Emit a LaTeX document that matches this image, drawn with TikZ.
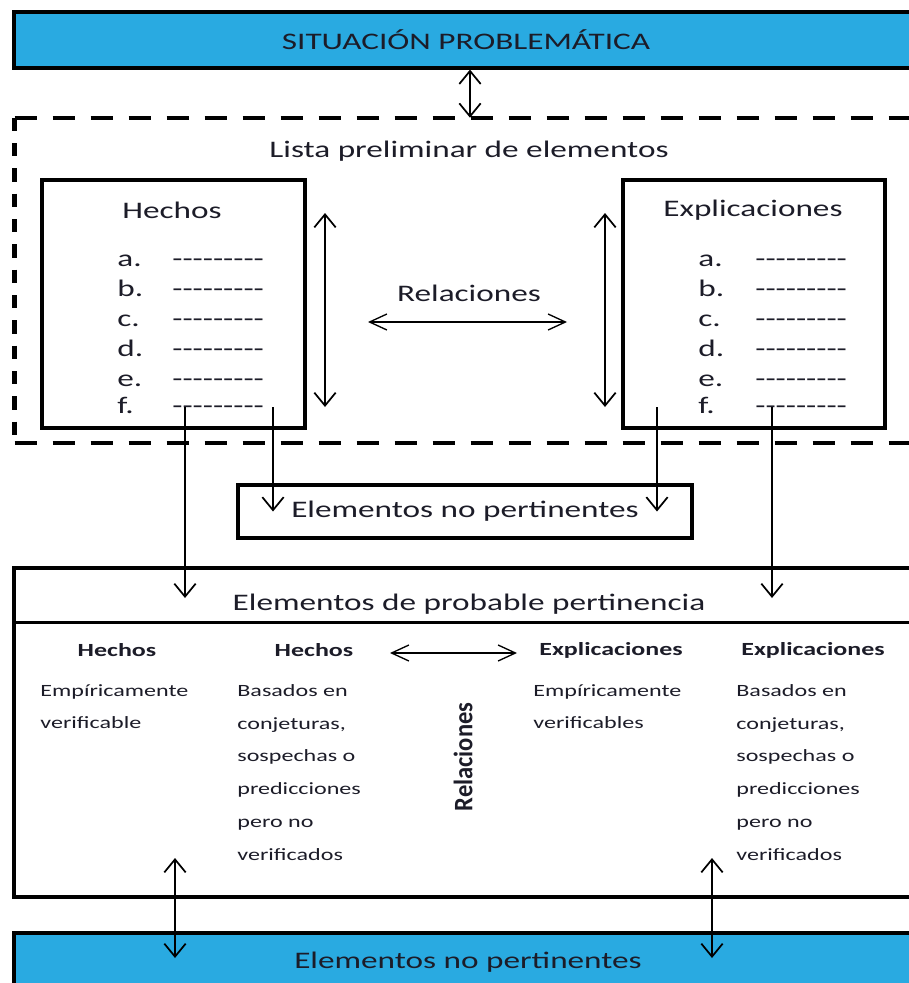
\documentclass[tikz,border=0pt]{standalone}
\usepackage{fontspec}
\setmainfont{Carlito}
\usetikzlibrary{arrows.meta,calc,fit}
\definecolor{barblue}{RGB}{41,170,225}
\definecolor{ink}{RGB}{28,28,40}
% a row of hyphens, kept apart so that no dash ligature forms
\newcommand{\dashrow}{-{}-{}-{}-{}-{}-{}-{}-{}-}

\begin{document}
\begin{tikzpicture}[x=0.75pt,y=-0.75pt,
  vbarb/.tip={Straight Barb[length=9.75pt,width=16pt]},
  hbarb/.tip={Straight Barb[length=13pt,width=12pt]},
  box/.style={draw=black,line width=2.4pt,inner sep=0pt},
  bluebar/.style={box,fill=barblue},
  dashH/.style={line width=3pt,dash pattern=on 16.5pt off 12pt},
  dashV/.style={line width=3.5pt,dash pattern=on 10pt off 9pt},
  big/.style={font=\fontsize{17.8pt}{21pt}\selectfont,xscale=1.4,inner sep=0pt,text=ink},
  item/.style={big,anchor=base west},
  head/.style={font=\bfseries\fontsize{13.9pt}{16pt}\selectfont,xscale=1.4,inner sep=0pt,text=ink},
  body/.style={font=\fontsize{12.9pt}{24.6pt}\selectfont,xscale=1.4,inner sep=0pt,text=ink,
    align=left,anchor=north west},
  vdbl/.style={line width=1.3pt,arrows={vbarb-vbarb}},
  vlink/.style={line width=1.3pt,arrows={-vbarb}},
  hdbl/.style={line width=1pt,arrows={hbarb-hbarb}}]

\useasboundingbox (0,0) rectangle (909,983);
\clip (0,0) rectangle (909,983);

% ---- top bar
\node[bluebar,fit={(14,12)(918,68)}] (sit) {};
\node[big] (sitT) at (sit.center) {SITUACIÓN PROBLEMÁTICA};

% ---- preliminary list (dashed frame)
\node[inner sep=0pt,fit={(15,118)(924,443)}] (lista) {};
\draw[dashH] (lista.north west) -- (lista.north east);
\draw[dashH] (lista.south west) -- (lista.south east);
\draw[dashV] (lista.north west) -- (lista.south west);
\draw[dashV] (lista.north east) -- (lista.south east);
\node[big] (listaT) at (469,151) {Lista preliminar de elementos};

% facts box
\node[box,fit={(42,180)(305,428)}] (hechos) {};
\node[big] (hechosT) at (172,210) {Hechos};
% explanations box
\node[box,fit={(623,180)(885,428)}] (expl) {};
\node[big] (explT) at (753,210) {Explicaciones};

\foreach \l/\y in {a/266,b/296,c/326,d/356,e/386,f/413}{
  \node[item] (hl\l) at (117,\y) {\l.};
  \node[item] (hd\l) at (172,\y) {\dashrow};
  \node[item] (el\l) at (698,\y) {\l.};
  \node[item] (ed\l) at (755,\y) {\dashrow};
}

\node[big] (relT) at (469,293) {Relaciones};
\coordinate (relL) at (368,322);
\coordinate (relR) at (567,322);
\draw[hdbl] (relL) -- (relR);

\coordinate (hvTop) at (325,213);
\coordinate (hvBot) at (325,407);
\coordinate (evTop) at (605,213);
\coordinate (evBot) at (605,407);
\draw[vdbl] (hvTop) -- (hvBot);
\draw[vdbl] (evTop) -- (evBot);

% top link
\coordinate (xTop) at (470,0);
\draw[vdbl] (sit.south -| xTop) -- (lista.north -| xTop);

% ---- non-pertinent elements (middle)
\node[box,fit={(238,485)(692,538)}] (np) {};
\node[big] (npT) at (np.center) {Elementos no pertinentes};

% ---- probable pertinence
\node[box,fit={(14,568)(924,897)}] (prob) {};
\draw[line width=2.4pt] ($(prob.north west)+(0,56)$) -- ($(prob.north east)+(0,56)$);
\node[big] (probT) at (469,604) {Elementos de probable pertinencia};

% links leaving the two lists
\coordinate (hs1) at (185,407);
\coordinate (hs2) at (273,407);
\coordinate (es1) at (657,407);
\coordinate (es2) at (772,407);
\draw[vlink] (hs1) -- ($(hs1 |- probT.center)+(0,-6)$);
\draw[vlink] (hs2) -- (hs2 |- np.center);
\draw[vlink] (es1) -- (es1 |- np.center);
\draw[vlink] (es2) -- ($(es2 |- probT.center)+(0,-6)$);

% column heads
\node[head] (h1) at (117,650) {Hechos};
\node[head] (h2) at (314,650) {Hechos};
\node[head] (h3) at (611,650) {Explicaciones};
\node[head] (h4) at (813,650) {Explicaciones};
\coordinate (hrL) at (390,653);
\coordinate (hrR) at (517,653);
\draw[hdbl] (hrL) -- (hrR);

% column bodies
\node[body] (b1) at (40,684) {Empíricamente\\verificable};
\node[body] (b2) at (237,684) {Basados en\\conjeturas,\\sospechas o\\predicciones\\pero no\\verificados};
\node[body] (b3) at (533,684) {Empíricamente\\verificables};
\node[body] (b4) at (736,684) {Basados en\\conjeturas,\\sospechas o\\predicciones\\pero no\\verificados};

\node[font=\bfseries\fontsize{20pt}{22pt}\selectfont,text=ink,inner sep=0pt,
  yscale=0.92,rotate=90] (relV) at (463,757) {Relaciones};

% ---- bottom bar
\node[bluebar,fit={(14,933)(922,1000)}] (nb) {};
\node[big] (nbT) at (468,962) {Elementos no pertinentes};

\coordinate (bl) at (175,858);
\coordinate (br) at (712,858);
\draw[vdbl] (bl) -- ($(bl |- nbT.center)+(0,-4)$);
\draw[vdbl] (br) -- ($(br |- nbT.center)+(0,-4)$);
\end{tikzpicture}
\end{document}
